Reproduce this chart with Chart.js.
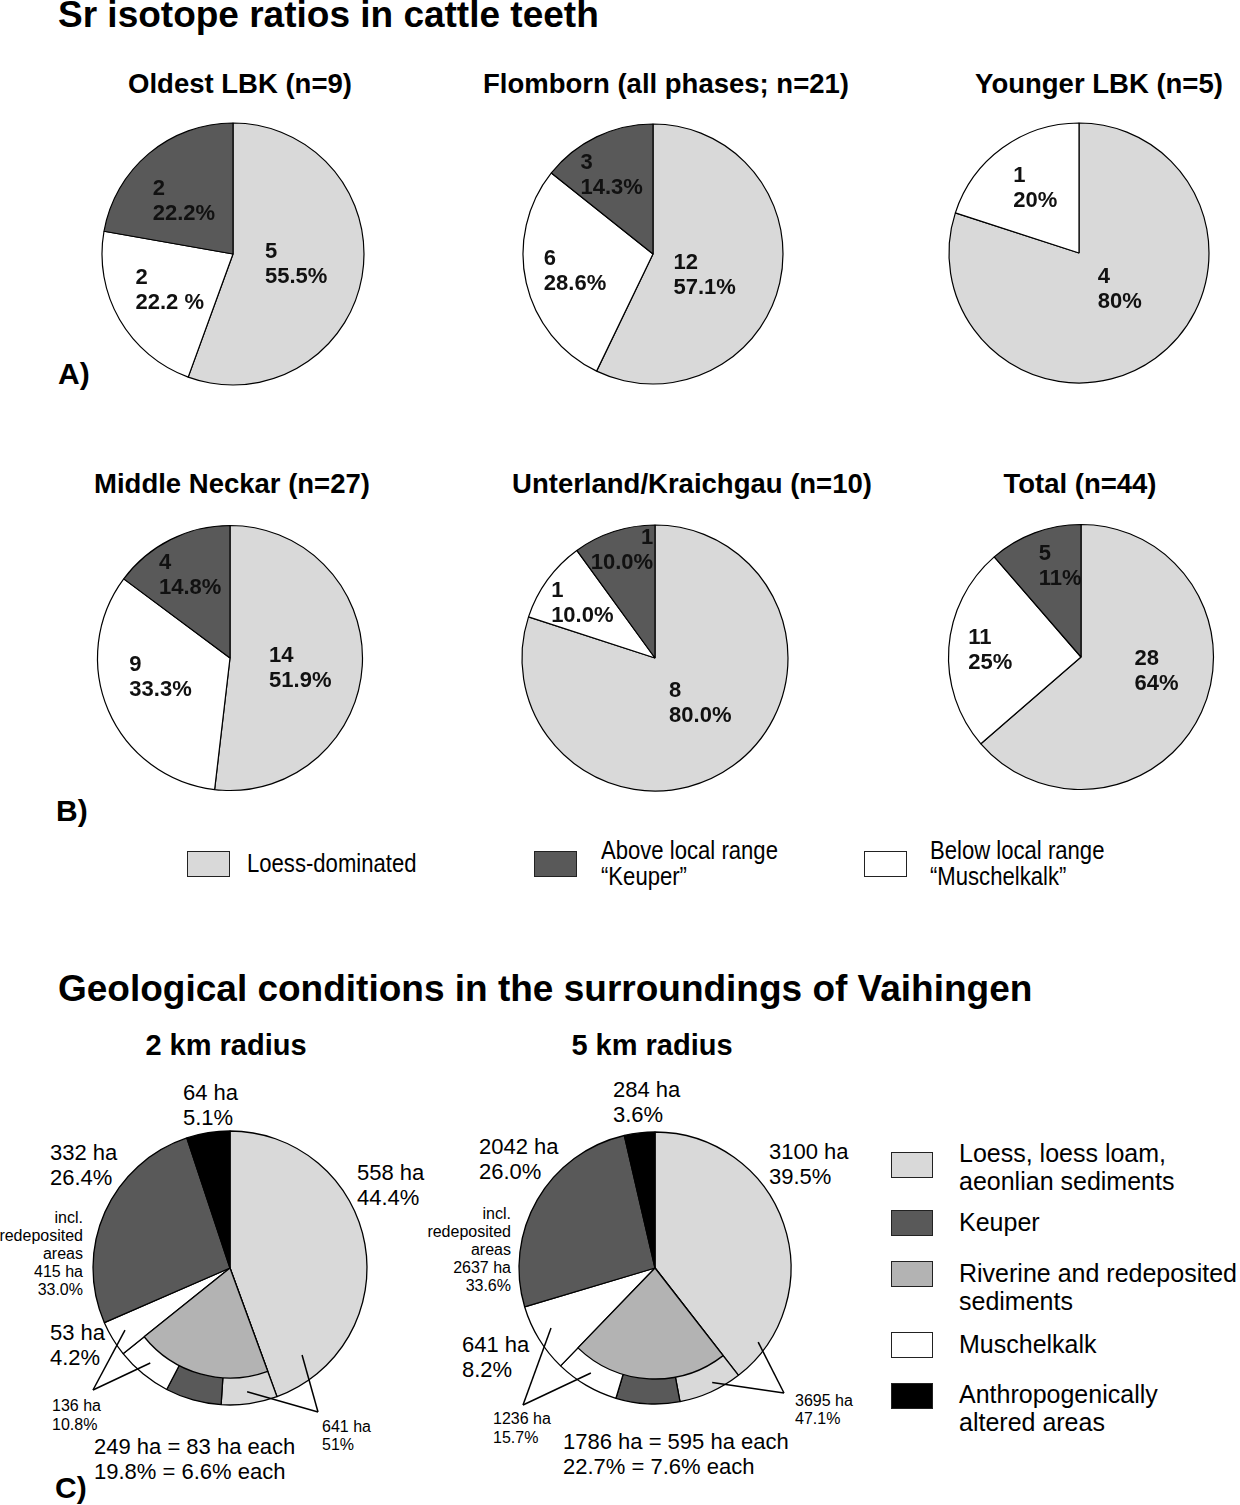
<!DOCTYPE html>
<html>
<head>
<meta charset="utf-8">
<script src="https://cdn.jsdelivr.net/npm/chart.js@4.4.1/dist/chart.umd.min.js"></script>
<style>
  html, body { margin: 0; padding: 0; background: #fff; overflow: hidden; }
  #page { position: relative; width: 1240px; height: 1505px; overflow: hidden; }
  .t { position: absolute; white-space: nowrap; font-family: "Liberation Sans", Arial, Helvetica, sans-serif; color: #000; }
  .h1 { font-weight: bold; font-size: 37px; line-height: 40px; }
  .h2 { font-weight: bold; font-size: 27.5px; line-height: 30px; width: 500px; text-align: center; }
  .h3 { font-weight: bold; font-size: 29px; line-height: 32px; width: 400px; text-align: center; }
  .tag { font-weight: bold; font-size: 30px; line-height: 34px; }
  .lg { font-size: 26px; line-height: 26px; transform: scaleX(.85); transform-origin: 0 0; }
  .lc { font-size: 25px; line-height: 28px; }
  .v { font-size: 22px; line-height: 24.5px; }
  .s { font-size: 16px; line-height: 18px; }
  .box { position: absolute; border: 1.5px solid #222; box-sizing: border-box; }
  canvas { position: absolute; }
</style>
</head>
<body>
<div id="page">
  <div class="t h1" style="left:58px;top:-5px">Sr isotope ratios in cattle teeth</div>

  <div class="t h2" style="left:-10px;top:69px">Oldest LBK (n=9)</div>
  <div class="t h2" style="left:416px;top:69px">Flomborn (all phases; n=21)</div>
  <div class="t h2" style="left:849px;top:69px">Younger LBK (n=5)</div>
  <div class="t tag" style="left:58px;top:357px">A)</div>

  <div class="t h2" style="left:-18px;top:469px">Middle Neckar (n=27)</div>
  <div class="t h2" style="left:442px;top:469px">Unterland/Kraichgau (n=10)</div>
  <div class="t h2" style="left:830px;top:469px">Total (n=44)</div>
  <div class="t tag" style="left:56px;top:794px">B)</div>

  <div class="box" style="left:187px;top:851px;width:43px;height:26px;background:#d9d9d9"></div>
  <div class="t lg" style="left:247px;top:850px">Loess-dominated</div>
  <div class="box" style="left:534px;top:851px;width:43px;height:26px;background:#595959"></div>
  <div class="t lg" style="left:601px;top:837px">Above local range<br>“Keuper”</div>
  <div class="box" style="left:864px;top:851px;width:43px;height:26px;background:#fff"></div>
  <div class="t lg" style="left:930px;top:837px">Below local range<br>“Muschelkalk”</div>

  <div class="t h1" style="left:58px;top:969px">Geological conditions in the surroundings of Vaihingen</div>
  <div class="t h3" style="left:26px;top:1029px">2 km radius</div>
  <div class="t h3" style="left:452px;top:1029px">5 km radius</div>

  <div class="t v" style="left:183px;top:1081px">64 ha<br>5.1%</div>
  <div class="t v" style="left:357px;top:1161px">558 ha<br>44.4%</div>
  <div class="t v" style="left:50px;top:1141px">332 ha<br>26.4%</div>
  <div class="t s" style="right:1157px;top:1209px;text-align:right">incl.<br>redeposited<br>areas<br>415 ha<br>33.0%</div>
  <div class="t v" style="left:50px;top:1321px">53 ha<br>4.2%</div>
  <div class="t s" style="left:52px;top:1396px;line-height:19px">136 ha<br>10.8%</div>
  <div class="t s" style="left:322px;top:1418px">641 ha<br>51%</div>
  <div class="t v" style="left:94px;top:1435px">249 ha = 83 ha each<br>19.8% = 6.6% each</div>

  <div class="t v" style="left:613px;top:1078px">284 ha<br>3.6%</div>
  <div class="t v" style="left:769px;top:1140px">3100 ha<br>39.5%</div>
  <div class="t v" style="left:479px;top:1135px">2042 ha<br>26.0%</div>
  <div class="t s" style="right:729px;top:1205px;text-align:right">incl.<br>redeposited<br>areas<br>2637 ha<br>33.6%</div>
  <div class="t v" style="left:462px;top:1333px">641 ha<br>8.2%</div>
  <div class="t s" style="left:493px;top:1409px;line-height:19px">1236 ha<br>15.7%</div>
  <div class="t s" style="left:795px;top:1392px">3695 ha<br>47.1%</div>
  <div class="t v" style="left:563px;top:1430px">1786 ha = 595 ha each<br>22.7% = 7.6% each</div>

  <div class="t tag" style="left:55px;top:1471px">C)</div>

  <div class="box" style="left:891px;top:1152px;width:42px;height:26px;background:#d9d9d9"></div>
  <div class="t lc" style="left:959px;top:1139px">Loess, loess loam,<br>aeonlian sediments</div>
  <div class="box" style="left:891px;top:1210px;width:42px;height:26px;background:#595959"></div>
  <div class="t lc" style="left:959px;top:1208px">Keuper</div>
  <div class="box" style="left:891px;top:1261px;width:42px;height:26px;background:#b3b3b3"></div>
  <div class="t lc" style="left:959px;top:1259px">Riverine and redeposited<br>sediments</div>
  <div class="box" style="left:891px;top:1332px;width:42px;height:26px;background:#fff"></div>
  <div class="t lc" style="left:959px;top:1330px">Muschelkalk</div>
  <div class="box" style="left:891px;top:1383px;width:42px;height:26px;background:#000"></div>
  <div class="t lc" style="left:959px;top:1380px">Anthropogenically<br>altered areas</div>

  <canvas id="oldest" width="300" height="300" style="left:83px;top:104px"></canvas>
  <canvas id="flomborn" width="300" height="300" style="left:503px;top:104px"></canvas>
  <canvas id="younger" width="300" height="300" style="left:929px;top:103px"></canvas>
  <canvas id="neckar" width="300" height="300" style="left:80px;top:508px"></canvas>
  <canvas id="unterland" width="300" height="300" style="left:505px;top:508px"></canvas>
  <canvas id="total" width="300" height="300" style="left:931px;top:507px"></canvas>

  <canvas id="km2" width="320" height="320" style="left:70px;top:1108px"></canvas>
  <canvas id="km2inner" width="320" height="320" style="left:70px;top:1108px"></canvas>
  <canvas id="km5" width="320" height="320" style="left:495px;top:1108px"></canvas>
  <canvas id="km5inner" width="320" height="320" style="left:495px;top:1108px"></canvas>
</div>

<script>
// cattle teeth, clockwise from top: loess-dominated, below range (Muschelkalk), above range (Keuper)
const toothCats = ["Loess-dominated", "Below local range “Muschelkalk”", "Above local range “Keuper”"];
const oldestN = [5, 2, 2];
const oldestPct = ["55.5%", "22.2 %", "22.2%"];
const flombornN = [12, 6, 3];
const flombornPct = ["57.1%", "28.6%", "14.3%"];
const youngerN = [4, 1];
const youngerPct = ["80%", "20%"];
const neckarN = [14, 9, 4];
const neckarPct = ["51.9%", "33.3%", "14.8%"];
const unterlandN = [8, 1, 1];
const unterlandPct = ["80.0%", "10.0%", "10.0%"];
const totalN = [28, 11, 5];
const totalPct = ["64%", "25%", "11%"];

// geology, clockwise from top; the riverine/redeposited share is split in three outer parts
const geoCats = ["Loess", "Redeposited (loess)", "Redeposited (Keuper)", "Redeposited (Muschelkalk)",
                 "Muschelkalk", "Keuper", "Anthropogenic"];
const ha2km = [558, 83, 83, 83, 53, 332, 64];
const ha5km = [3100, 595, 595, 595, 641, 2042, 284];

const LIGHT = "#d9d9d9", DARK = "#595959", MID = "#b3b3b3";
const toothColors = [LIGHT, "#ffffff", DARK];
const geoColors = [LIGHT, LIGHT, DARK, "#ffffff", "#ffffff", DARK, "#000000"];

// label anchors: [angle shift from slice middle (deg), distance from centre (px), align]
const labelAt = {
  oldest: [[-1, 64], [0, 73], [-3, 72]],
  flomborn: [[10, 56], [0, 80], [-2, 89]],
  younger: [[-12, 55], [2, 78]],
  neckar: [[5, 71], [8, 72], [1, 92]],
  unterland: [[-9, 64], [1, 91], [1, 113, "right"]],
  total: [[-13.5, 77], [0, 91], [7.5, 93]],
};
const labelText = {};

// leader lines: vertex offset from centre, targets [slice, angle shift, distance]
const leaders = {
  km2: [
    { from: [-137, 122], to: [[4, 0.5, 122], [3, 0.6, 124]] },
    { from: [88, 144], to: [[0, 60.4, 113], [1, 0.3, 125]] },
  ],
  km5: [
    { from: [-132, 137], to: [[4, 1.4, 120], [3, 1.1, 123]] },
    { from: [129, 125], to: [[0, 54.6, 127], [1, -2.3, 128]] },
  ],
};

const sliceLabels = {
  id: "sliceLabels",
  afterDatasetsDraw(chart) {
    const id = chart.canvas.id;
    const pos = labelAt[id];
    if (!pos || !labelText[id]) return;
    const meta = chart.getDatasetMeta(0);
    const ctx = chart.ctx;
    ctx.save();
    ctx.font = "bold 22px 'Liberation Sans', Arial, sans-serif";
    ctx.fillStyle = "#111";
    ctx.textBaseline = "middle";
    pos.forEach((p, i) => {
      const arc = meta.data[i];
      const ang = (arc.startAngle + arc.endAngle) / 2 + (p[0] * Math.PI) / 180;
      const x = arc.x + Math.cos(ang) * p[1];
      const y = arc.y + Math.sin(ang) * p[1];
      const lines = labelText[id][i];
      const w = Math.max(...lines.map((l) => ctx.measureText(l).width));
      lines.forEach((l, k) => {
        const ly = y + (k - (lines.length - 1) / 2) * 25;
        if (p[2] === "right") {
          ctx.textAlign = "right";
          ctx.fillText(l, x + w / 2, ly);
        } else {
          ctx.textAlign = "left";
          ctx.fillText(l, x - w / 2, ly);
        }
      });
    });
    ctx.restore();
  },
};

const leaderLines = {
  id: "leaderLines",
  afterDatasetsDraw(chart) {
    const groups = leaders[chart.canvas.id];
    if (!groups) return;
    const meta = chart.getDatasetMeta(0);
    const ctx = chart.ctx;
    ctx.save();
    ctx.strokeStyle = "#000";
    ctx.lineWidth = 1.5;
    groups.forEach((g) => {
      const c = meta.data[0];
      const vx = c.x + g.from[0], vy = c.y + g.from[1];
      g.to.forEach(([i, da, r]) => {
        const a = meta.data[i];
        const ang = (a.startAngle + a.endAngle) / 2 + (da * Math.PI) / 180;
        ctx.beginPath();
        ctx.moveTo(vx, vy);
        ctx.lineTo(a.x + Math.cos(ang) * r, a.y + Math.sin(ang) * r);
        ctx.stroke();
      });
    });
    ctx.restore();
  },
};

Chart.register(sliceLabels, leaderLines);

function pie(id, labels, data, colors, radius, borderWidth) {
  return new Chart(document.getElementById(id), {
    type: "pie",
    data: {
      labels,
      datasets: [{ data, backgroundColor: colors, borderColor: "#000", borderWidth }],
    },
    options: {
      responsive: false,
      animation: false,
      events: [],
      radius,
      layout: { padding: 0 },
      plugins: { legend: { display: false }, tooltip: { enabled: false } },
    },
  });
}

function toothPie(id, n, pct, radius) {
  labelText[id] = n.map((v, i) => [String(v), pct[i]]);
  pie(id, toothCats.slice(0, n.length), n, toothColors.slice(0, n.length), radius, 1.2);
}

toothPie("oldest", oldestN, oldestPct, 131);
toothPie("flomborn", flombornN, flombornPct, 130);
toothPie("younger", youngerN, youngerPct, 130);
toothPie("neckar", neckarN, neckarPct, 132.5);
toothPie("unterland", unterlandN, unterlandPct, 133);
toothPie("total", totalN, totalPct, 132.5);

function geoPie(id, ha, outerR, innerR) {
  pie(id, geoCats, ha, geoColors, outerR, 1.3);
  // inner riverine sector drawn over the three redeposited outer parts
  const inner = [ha[0], ha[1] + ha[2] + ha[3], ha[4] + ha[5] + ha[6]];
  pie(id + "inner", ["", "Riverine and redeposited sediments", ""], inner,
      ["rgba(0,0,0,0)", MID, "rgba(0,0,0,0)"], innerR, [0, 1.3, 0]);
}

geoPie("km2", ha2km, 137, 110);
geoPie("km5", ha5km, 136, 111);
</script>
</body>
</html>
